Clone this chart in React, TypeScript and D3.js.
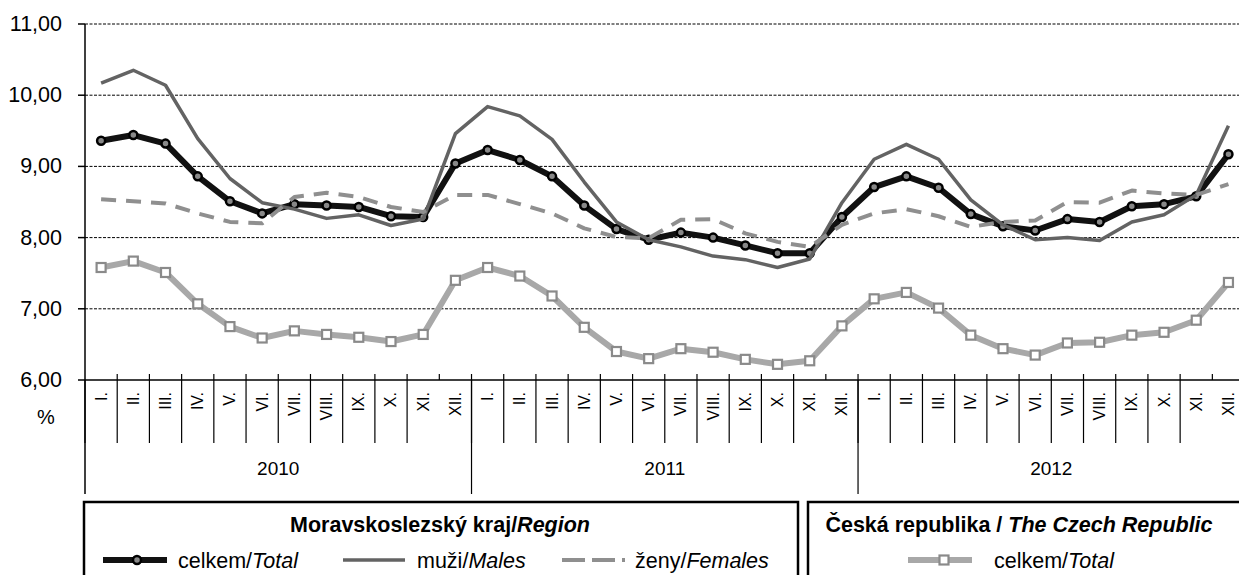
import React from 'react';
import * as d3 from 'd3';

const months = ['I.', 'II.', 'III.', 'IV.', 'V.', 'VI.', 'VII.', 'VIII.', 'IX.', 'X.', 'XI.', 'XII.'];
const years = ['2010', '2011', '2012'];
const yTicks = [6, 7, 8, 9, 10, 11];

// Moravskoslezský kraj
const celkem = [
  9.36, 9.44, 9.32, 8.86, 8.51, 8.34, 8.47, 8.45, 8.43, 8.30, 8.29, 9.04,
  9.23, 9.09, 8.86, 8.45, 8.12, 7.97, 8.07, 8.00, 7.89, 7.78, 7.78, 8.29,
  8.71, 8.86, 8.70, 8.33, 8.16, 8.10, 8.26, 8.22, 8.44, 8.47, 8.58, 9.17,
];
const muzi = [
  10.17, 10.35, 10.14, 9.39, 8.83, 8.49, 8.40, 8.27, 8.32, 8.17, 8.26, 9.46,
  9.84, 9.71, 9.38, 8.78, 8.22, 7.97, 7.87, 7.74, 7.69, 7.58, 7.70, 8.49,
  9.10, 9.31, 9.10, 8.53, 8.18, 7.97, 8.00, 7.96, 8.22, 8.32, 8.60, 9.57,
];
const zeny = [
  8.54, 8.51, 8.48, 8.34, 8.22, 8.20, 8.57, 8.63, 8.57, 8.43, 8.36, 8.60,
  8.60, 8.47, 8.34, 8.13, 8.01, 7.99, 8.25, 8.26, 8.06, 7.94, 7.87, 8.18,
  8.34, 8.40, 8.30, 8.15, 8.22, 8.24, 8.50, 8.49, 8.66, 8.62, 8.60, 8.75,
];
// Česká republika
const czCelkem = [
  7.58, 7.67, 7.51, 7.07, 6.75, 6.59, 6.69, 6.64, 6.60, 6.54, 6.64, 7.40,
  7.58, 7.46, 7.18, 6.74, 6.40, 6.30, 6.44, 6.39, 6.29, 6.22, 6.27, 6.76,
  7.14, 7.23, 7.01, 6.63, 6.44, 6.35, 6.52, 6.53, 6.63, 6.67, 6.84, 7.37,
];

const W = 1239;
const H = 575;
const left = 85;
const monthW = 32.21;
const top = 24;
const bottom = 380;
const font = 'Arial, "Liberation Sans", sans-serif';
const legendFs = 21.5;

const idx = d3.range(years.length * months.length);

export default function App() {
  const x = d3.scaleBand<number>().domain(idx).range([left, left + idx.length * monthW]);
  const y = d3.scaleLinear().domain([6, 11]).range([bottom, top]);
  const cx = (i: number) => (x(i) as number) + x.bandwidth() / 2;

  const line = (vals: number[]) =>
    d3.line<number>().x((d, i) => cx(i)).y(d => y(d))(vals) as string;

  const xEnd = W + 10;

  return (
    <svg width={W} height={H} style={{ position: 'absolute', left: 0, top: 0, background: '#fff' }} fontFamily={font}>
      {/* grid */}
      {yTicks.filter(t => t > 6).map(t => (
        <line key={t} x1={left} x2={xEnd} y1={y(t)} y2={y(t)} stroke="#000" strokeWidth={1} strokeDasharray="3,1.5" />
      ))}
      {/* y axis */}
      <line x1={left} x2={left} y1={top} y2={494} stroke="#000" strokeWidth={1.5} />
      {yTicks.map(t => (
        <g key={t}>
          <line x1={78} x2={left} y1={y(t)} y2={y(t)} stroke="#000" strokeWidth={1.5} />
          <text x={62} y={y(t)} textAnchor="end" dominantBaseline="central" fontSize={21.5} fill="#000">
            {t.toFixed(2).replace('.', ',')}
          </text>
        </g>
      ))}
      <text x={46} y={417} textAnchor="middle" dominantBaseline="central" fontSize={20}>%</text>
      {/* x axis */}
      <line x1={left} x2={xEnd} y1={bottom} y2={bottom} stroke="#000" strokeWidth={1.5} />
      {idx.map(i => (
        <g key={i}>
          <line x1={x(i)! + monthW} x2={x(i)! + monthW} y1={374} y2={bottom} stroke="#000" strokeWidth={1.2} />
          <line
            x1={x(i)! + (i % 12 === 11 ? monthW : 0)}
            x2={x(i)! + (i % 12 === 11 ? monthW : 0)}
            y1={bottom}
            y2={i % 12 === 11 ? 494 : 443}
            stroke="#000"
            strokeWidth={1.2}
          />
          <text
            transform={`translate(${cx(i)},392) rotate(-90)`}
            textAnchor="end"
            dominantBaseline="central"
            fontSize={16}
          >
            {months[i % 12]}
          </text>
        </g>
      ))}
      {years.map((yr, k) => (
        <text key={yr} x={cx(k * 12) + 5.5 * monthW} y={468} textAnchor="middle" dominantBaseline="central" fontSize={19}>
          {yr}
        </text>
      ))}

      {/* series */}
      <path d={line(celkem)} fill="none" stroke="#111" strokeWidth={6} strokeLinejoin="round" />
      {celkem.map((v, i) => (
        <circle key={i} cx={cx(i)} cy={y(v)} r={4} fill="#888" stroke="#000" strokeWidth={2.5} />
      ))}
      <path d={line(muzi)} fill="none" stroke="#636363" strokeWidth={3.5} strokeLinejoin="round" />
      <path d={line(zeny)} fill="none" stroke="#8f8f8f" strokeWidth={4} strokeDasharray="15,10" strokeLinejoin="round" />
      <path d={line(czCelkem)} fill="none" stroke="#a8a8a8" strokeWidth={6} strokeLinejoin="round" />
      {czCelkem.map((v, i) => (
        <rect key={i} x={cx(i) - 4.5} y={y(v) - 4.5} width={9} height={9} fill="#fff" stroke="#8a8a8a" strokeWidth={2.2} />
      ))}

      {/* legend */}
      <rect x={84} y={502} width={714} height={120} fill="none" stroke="#000" strokeWidth={2.5} />
      <rect x={808} y={502} width={460} height={120} fill="none" stroke="#000" strokeWidth={2.5} />
      <text x={440} y={525} textAnchor="middle" dominantBaseline="central" fontSize={legendFs} fontWeight="bold">
        Moravskoslezský kraj/<tspan fontStyle="italic">Region</tspan>
      </text>
      <text x={1019} y={525} textAnchor="middle" dominantBaseline="central" fontSize={legendFs} fontWeight="bold">
        Česká republika / <tspan fontStyle="italic">The Czech Republic</tspan>
      </text>

      <line x1={103} x2={167} y1={560} y2={560} stroke="#111" strokeWidth={6} />
      <circle cx={137} cy={560} r={4} fill="#888" stroke="#000" strokeWidth={2.5} />
      <text x={178} y={561} dominantBaseline="central" fontSize={legendFs}>celkem/<tspan fontStyle="italic">Total</tspan></text>

      <line x1={343} x2={405} y1={560} y2={560} stroke="#636363" strokeWidth={3.5} />
      <text x={417} y={561} dominantBaseline="central" fontSize={legendFs}>muži/<tspan fontStyle="italic">Males</tspan></text>

      <line x1={562} x2={625} y1={560} y2={560} stroke="#8f8f8f" strokeWidth={4} strokeDasharray="23,7" />
      <text x={635} y={561} dominantBaseline="central" fontSize={legendFs}>ženy/<tspan fontStyle="italic">Females</tspan></text>

      <line x1={908} x2={972} y1={560} y2={560} stroke="#a8a8a8" strokeWidth={6} />
      <rect x={939.5} y={555.5} width={9} height={9} fill="#fff" stroke="#8a8a8a" strokeWidth={2.2} />
      <text x={994} y={561} dominantBaseline="central" fontSize={legendFs}>celkem/<tspan fontStyle="italic">Total</tspan></text>
    </svg>
  );
}
